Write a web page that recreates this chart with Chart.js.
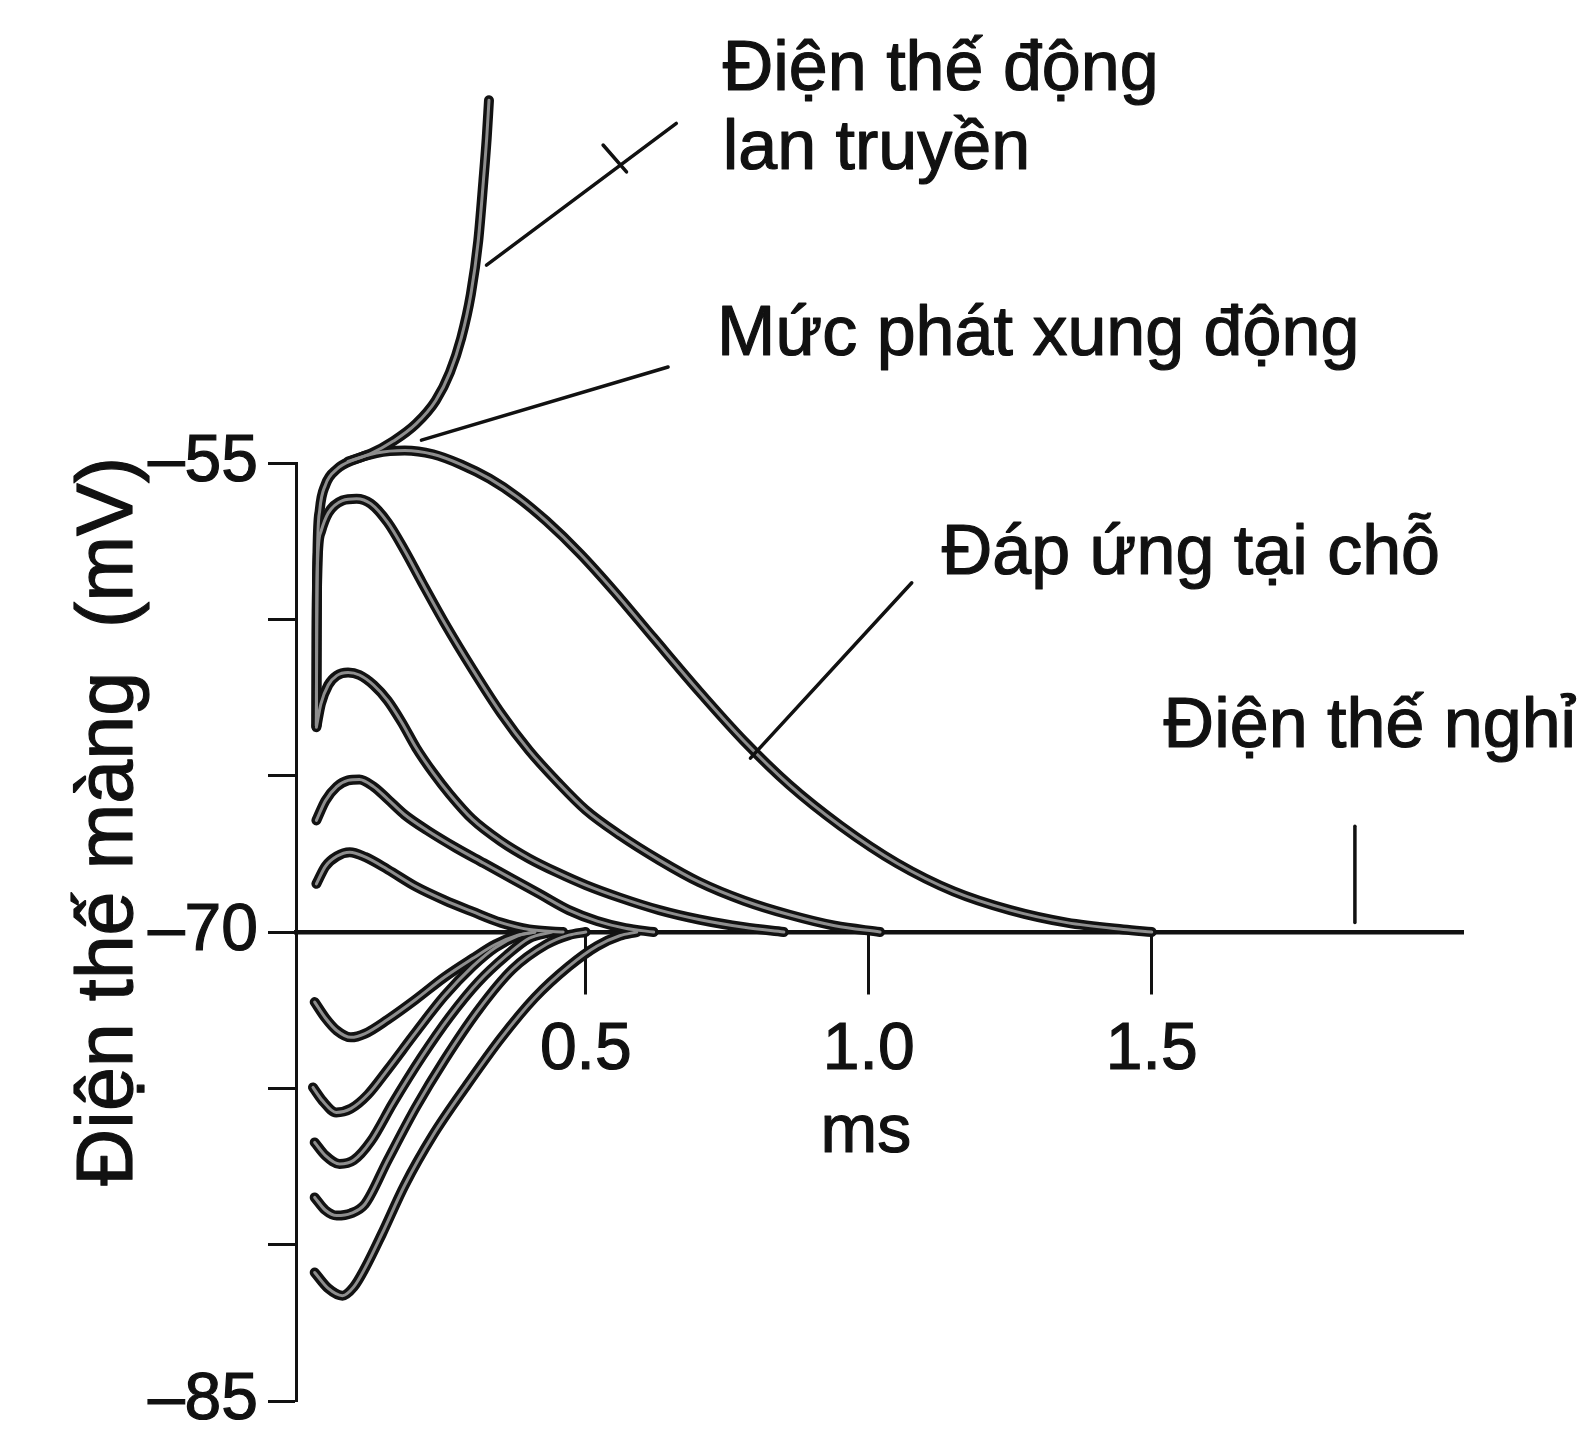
<!DOCTYPE html>
<html lang="vi">
<head>
<meta charset="utf-8">
<title>Điện thế màng</title>
<script src="https://cdn.jsdelivr.net/npm/chart.js@4.4.1/dist/chart.umd.min.js"></script>
<style>
  html, body { margin: 0; padding: 0; background: #fff; }
  #wrap { width: 1580px; height: 1435px; }
</style>
</head>
<body>
<div id="wrap"><canvas id="chart" width="1580" height="1435"></canvas></div>
<script>
// time (ms) and membrane potential (mV) for each trace

// action potential branch leaving the threshold trace
const apT = [0.080, 0.120, 0.160, 0.200, 0.235, 0.260, 0.280, 0.297, 0.310, 0.319, 0.325, 0.329];
const apV = [-54.95, -54.70, -54.30, -53.75, -53.00, -52.10, -51.00, -49.60, -47.90, -46.00, -44.60, -43.40];

// threshold response
const thrT = [0.024, 0.0245, 0.026, 0.030, 0.040, 0.060, 0.090, 0.130, 0.180, 0.230, 0.280, 0.330, 0.380, 0.430, 0.490, 0.550, 0.620, 0.700, 0.780, 0.860, 0.950, 1.050, 1.150, 1.250, 1.350, 1.450, 1.500];
const thrV = [-63.4, -60.5, -57.8, -56.5, -55.7, -55.2, -54.9, -54.68, -54.6, -54.72, -55.05, -55.5, -56.1, -56.85, -57.9, -59.1, -60.6, -62.3, -63.9, -65.3, -66.6, -67.8, -68.7, -69.3, -69.7, -69.92, -70.0];

// local responses, largest to smallest
const loc1T = [0.024, 0.0245, 0.026, 0.032, 0.045, 0.070, 0.095, 0.120, 0.150, 0.180, 0.210, 0.250, 0.300, 0.350, 0.400, 0.450, 0.500, 0.560, 0.630, 0.700, 0.780, 0.860, 0.940, 1.020];
const loc1V = [-63.4, -60.5, -58.2, -57.2, -56.6, -56.2, -56.14, -56.3, -56.9, -57.8, -58.8, -60.1, -61.6, -63.0, -64.2, -65.2, -66.1, -66.9, -67.7, -68.4, -69.0, -69.45, -69.8, -70.0];

const loc2T = [0.024, 0.032, 0.045, 0.060, 0.080, 0.100, 0.125, 0.150, 0.175, 0.200, 0.230, 0.260, 0.300, 0.350, 0.400, 0.450, 0.500, 0.560, 0.630, 0.700, 0.780, 0.850];
const loc2V = [-63.45, -62.7, -62.1, -61.8, -61.7, -61.78, -62.1, -62.6, -63.3, -64.1, -64.9, -65.6, -66.4, -67.1, -67.65, -68.1, -68.5, -68.9, -69.3, -69.6, -69.85, -70.0];

const loc3T = [0.024, 0.040, 0.060, 0.080, 0.100, 0.125, 0.150, 0.180, 0.220, 0.270, 0.320, 0.370, 0.420, 0.470, 0.520, 0.570, 0.620];
const loc3V = [-66.43, -65.8, -65.35, -65.15, -65.12, -65.35, -65.75, -66.25, -66.75, -67.3, -67.8, -68.3, -68.8, -69.3, -69.65, -69.88, -70.0];

const loc4T = [0.024, 0.040, 0.060, 0.083, 0.110, 0.150, 0.200, 0.250, 0.300, 0.350, 0.400, 0.460];
const loc4V = [-68.46, -67.9, -67.58, -67.45, -67.6, -68.0, -68.55, -68.98, -69.35, -69.7, -69.92, -70.0];

// hyperpolarising responses, smallest to largest
const hyp1T = [0.021, 0.040, 0.060, 0.085, 0.110, 0.150, 0.200, 0.250, 0.300, 0.340, 0.380, 0.410];
const hyp1V = [-72.24, -72.75, -73.15, -73.37, -73.25, -72.8, -72.15, -71.45, -70.85, -70.4, -70.1, -70.0];

const hyp2T = [0.018, 0.035, 0.059, 0.085, 0.115, 0.150, 0.200, 0.250, 0.300, 0.340, 0.380, 0.410];
const hyp2V = [-74.97, -75.4, -75.77, -75.65, -75.2, -74.4, -73.2, -72.05, -71.1, -70.5, -70.12, -70.0];

const hyp3T = [0.021, 0.040, 0.065, 0.090, 0.120, 0.160, 0.210, 0.260, 0.310, 0.360, 0.400, 0.440];
const hyp3V = [-76.73, -77.15, -77.42, -77.3, -76.7, -75.45, -74.0, -72.7, -71.6, -70.75, -70.2, -70.0];

const hyp4T = [0.021, 0.040, 0.060, 0.085, 0.110, 0.150, 0.200, 0.250, 0.310, 0.370, 0.430, 0.470, 0.500];
const hyp4V = [-78.49, -78.9, -79.07, -79.0, -78.7, -77.3, -75.6, -74.1, -72.5, -71.2, -70.4, -70.1, -70.0];

const hyp5T = [0.021, 0.045, 0.070, 0.090, 0.110, 0.140, 0.180, 0.230, 0.290, 0.350, 0.410, 0.470, 0.520, 0.560, 0.590];
const hyp5V = [-80.89, -81.4, -81.63, -81.35, -80.75, -79.65, -78.1, -76.5, -74.9, -73.4, -72.1, -71.1, -70.45, -70.12, -70.0];

// axis ticks
const xTickValues = [0.5, 1.0, 1.5];
const yTickValues = [-85, -80, -75, -70, -65, -60, -55];
const yTickLabels = ['–85', '', '', '–70', '', '', '–55'];

const traces = [
  [apT, apV], [thrT, thrV],
  [loc1T, loc1V], [loc2T, loc2V], [loc3T, loc3V], [loc4T, loc4V],
  [hyp1T, hyp1V], [hyp2T, hyp2V], [hyp3T, hyp3V], [hyp4T, hyp4V], [hyp5T, hyp5V]
];

const toPoints = (ts, vs) => ts.map((t, i) => ({ x: t, y: vs[i] }));

// every trace is stroked twice: a dark wide line with a pale core on top
const datasets = [];
traces.forEach(([ts, vs]) => {
  const line = {
    showLine: true, pointRadius: 0, clip: false,
    cubicInterpolationMode: 'monotone',
    borderCapStyle: 'round', borderJoinStyle: 'round'
  };
  datasets.push(Object.assign({ data: toPoints(ts, vs), order: 2, borderColor: '#121212', borderWidth: 10 }, line));
  datasets.push(Object.assign({ data: toPoints(ts, vs), order: 1, borderColor: '#8e8e8e', borderWidth: 3 }, line));
});

const FONT = '"Liberation Sans", Arial, sans-serif';
const INK = '#111';

// labels and pointer lines, placed in (ms, mV)
const notes = [
  { text: 'Điện thế động', t: 0.742, v: -43.07 },
  { text: 'lan truyền', t: 0.742, v: -45.6 },
  { text: 'Mức phát xung động', t: 0.732, v: -51.55 },
  { text: 'Đáp ứng tại chỗ', t: 1.129, v: -58.56 },
  { text: 'Điện thế nghỉ', t: 1.521, v: -64.07 }
];
const leaders = [
  [0.3246, -48.67, 0.660, -44.14],
  [0.5306, -44.83, 0.572, -45.69],
  [0.2097, -54.27, 0.6454, -51.93],
  [0.791, -64.44, 1.076, -58.83],
  [1.859, -66.62, 1.859, -69.7]
];

function inkText(ctx, text, px, py) {
  ctx.fillText(text, px, py);
  ctx.strokeText(text, px, py);
}

const notesPlugin = {
  id: 'notes',
  afterDraw(chart) {
    const { ctx, scales: { x, y } } = chart;
    ctx.save();
    ctx.strokeStyle = INK;
    ctx.lineWidth = 3.5;
    ctx.lineCap = 'round';
    leaders.forEach(([t1, v1, t2, v2]) => {
      ctx.beginPath();
      ctx.moveTo(x.getPixelForValue(t1), y.getPixelForValue(v1));
      ctx.lineTo(x.getPixelForValue(t2), y.getPixelForValue(v2));
      ctx.stroke();
    });

    ctx.fillStyle = INK;
    ctx.lineWidth = 1.2;
    ctx.lineJoin = 'round';
    ctx.font = '70px ' + FONT;
    ctx.textAlign = 'left';
    ctx.textBaseline = 'alphabetic';
    notes.forEach(n => inkText(ctx, n.text, x.getPixelForValue(n.t), y.getPixelForValue(n.v)));

    // time unit under the tick labels
    ctx.font = '68px ' + FONT;
    ctx.textAlign = 'center';
    ctx.textBaseline = 'middle';
    inkText(ctx, 'ms', x.getPixelForValue(0.995), y.getPixelForValue(-76.44));

    // vertical axis title
    ctx.translate(x.getPixelForValue(-0.341), y.getPixelForValue(-66.46));
    ctx.rotate(-Math.PI / 2);
    ctx.font = '79px ' + FONT;
    inkText(ctx, 'Điện thế màng  (mV)', 0, 0);
    ctx.restore();
  }
};

new Chart(document.getElementById('chart'), {
  type: 'scatter',
  data: { datasets },
  options: {
    responsive: false,
    devicePixelRatio: 1,
    animation: false,
    layout: { padding: { left: 0, top: 463, right: 117, bottom: 34 } },
    plugins: { legend: { display: false }, tooltip: { enabled: false } },
    scales: {
      x: {
        type: 'linear',
        position: { y: -70 },
        min: -0.012,
        max: 2.05,
        afterFit: s => { s.height = 0; s.paddingLeft = 0; s.paddingRight = 0; },
        afterBuildTicks: s => { s.ticks = xTickValues.map(v => ({ value: v })); },
        ticks: {
          callback: v => v.toFixed(1),
          color: INK,
          font: { family: FONT, size: 66 },
          textStrokeColor: INK,
          textStrokeWidth: 1.2,
          padding: 19,
          maxRotation: 0,
          autoSkip: false
        },
        grid: { drawOnChartArea: false, tickLength: 60, tickWidth: 3, tickColor: INK },
        border: { display: true, color: INK, width: 4.5 }
      },
      y: {
        type: 'linear',
        min: -85,
        max: -55,
        afterFit: s => { s.width = 296; s.paddingTop = 0; s.paddingBottom = 0; },
        afterBuildTicks: s => { s.ticks = yTickValues.map(v => ({ value: v })); },
        ticks: {
          callback: (v) => yTickLabels[yTickValues.indexOf(v)],
          color: INK,
          font: { family: FONT, size: 66 },
          textStrokeColor: INK,
          textStrokeWidth: 1.2,
          padding: 10,
          autoSkip: false
        },
        grid: { drawOnChartArea: false, tickLength: 28, tickWidth: 3, tickColor: INK },
        border: { display: true, color: INK, width: 3 }
      }
    }
  },
  plugins: [notesPlugin]
});
</script>
</body>
</html>
